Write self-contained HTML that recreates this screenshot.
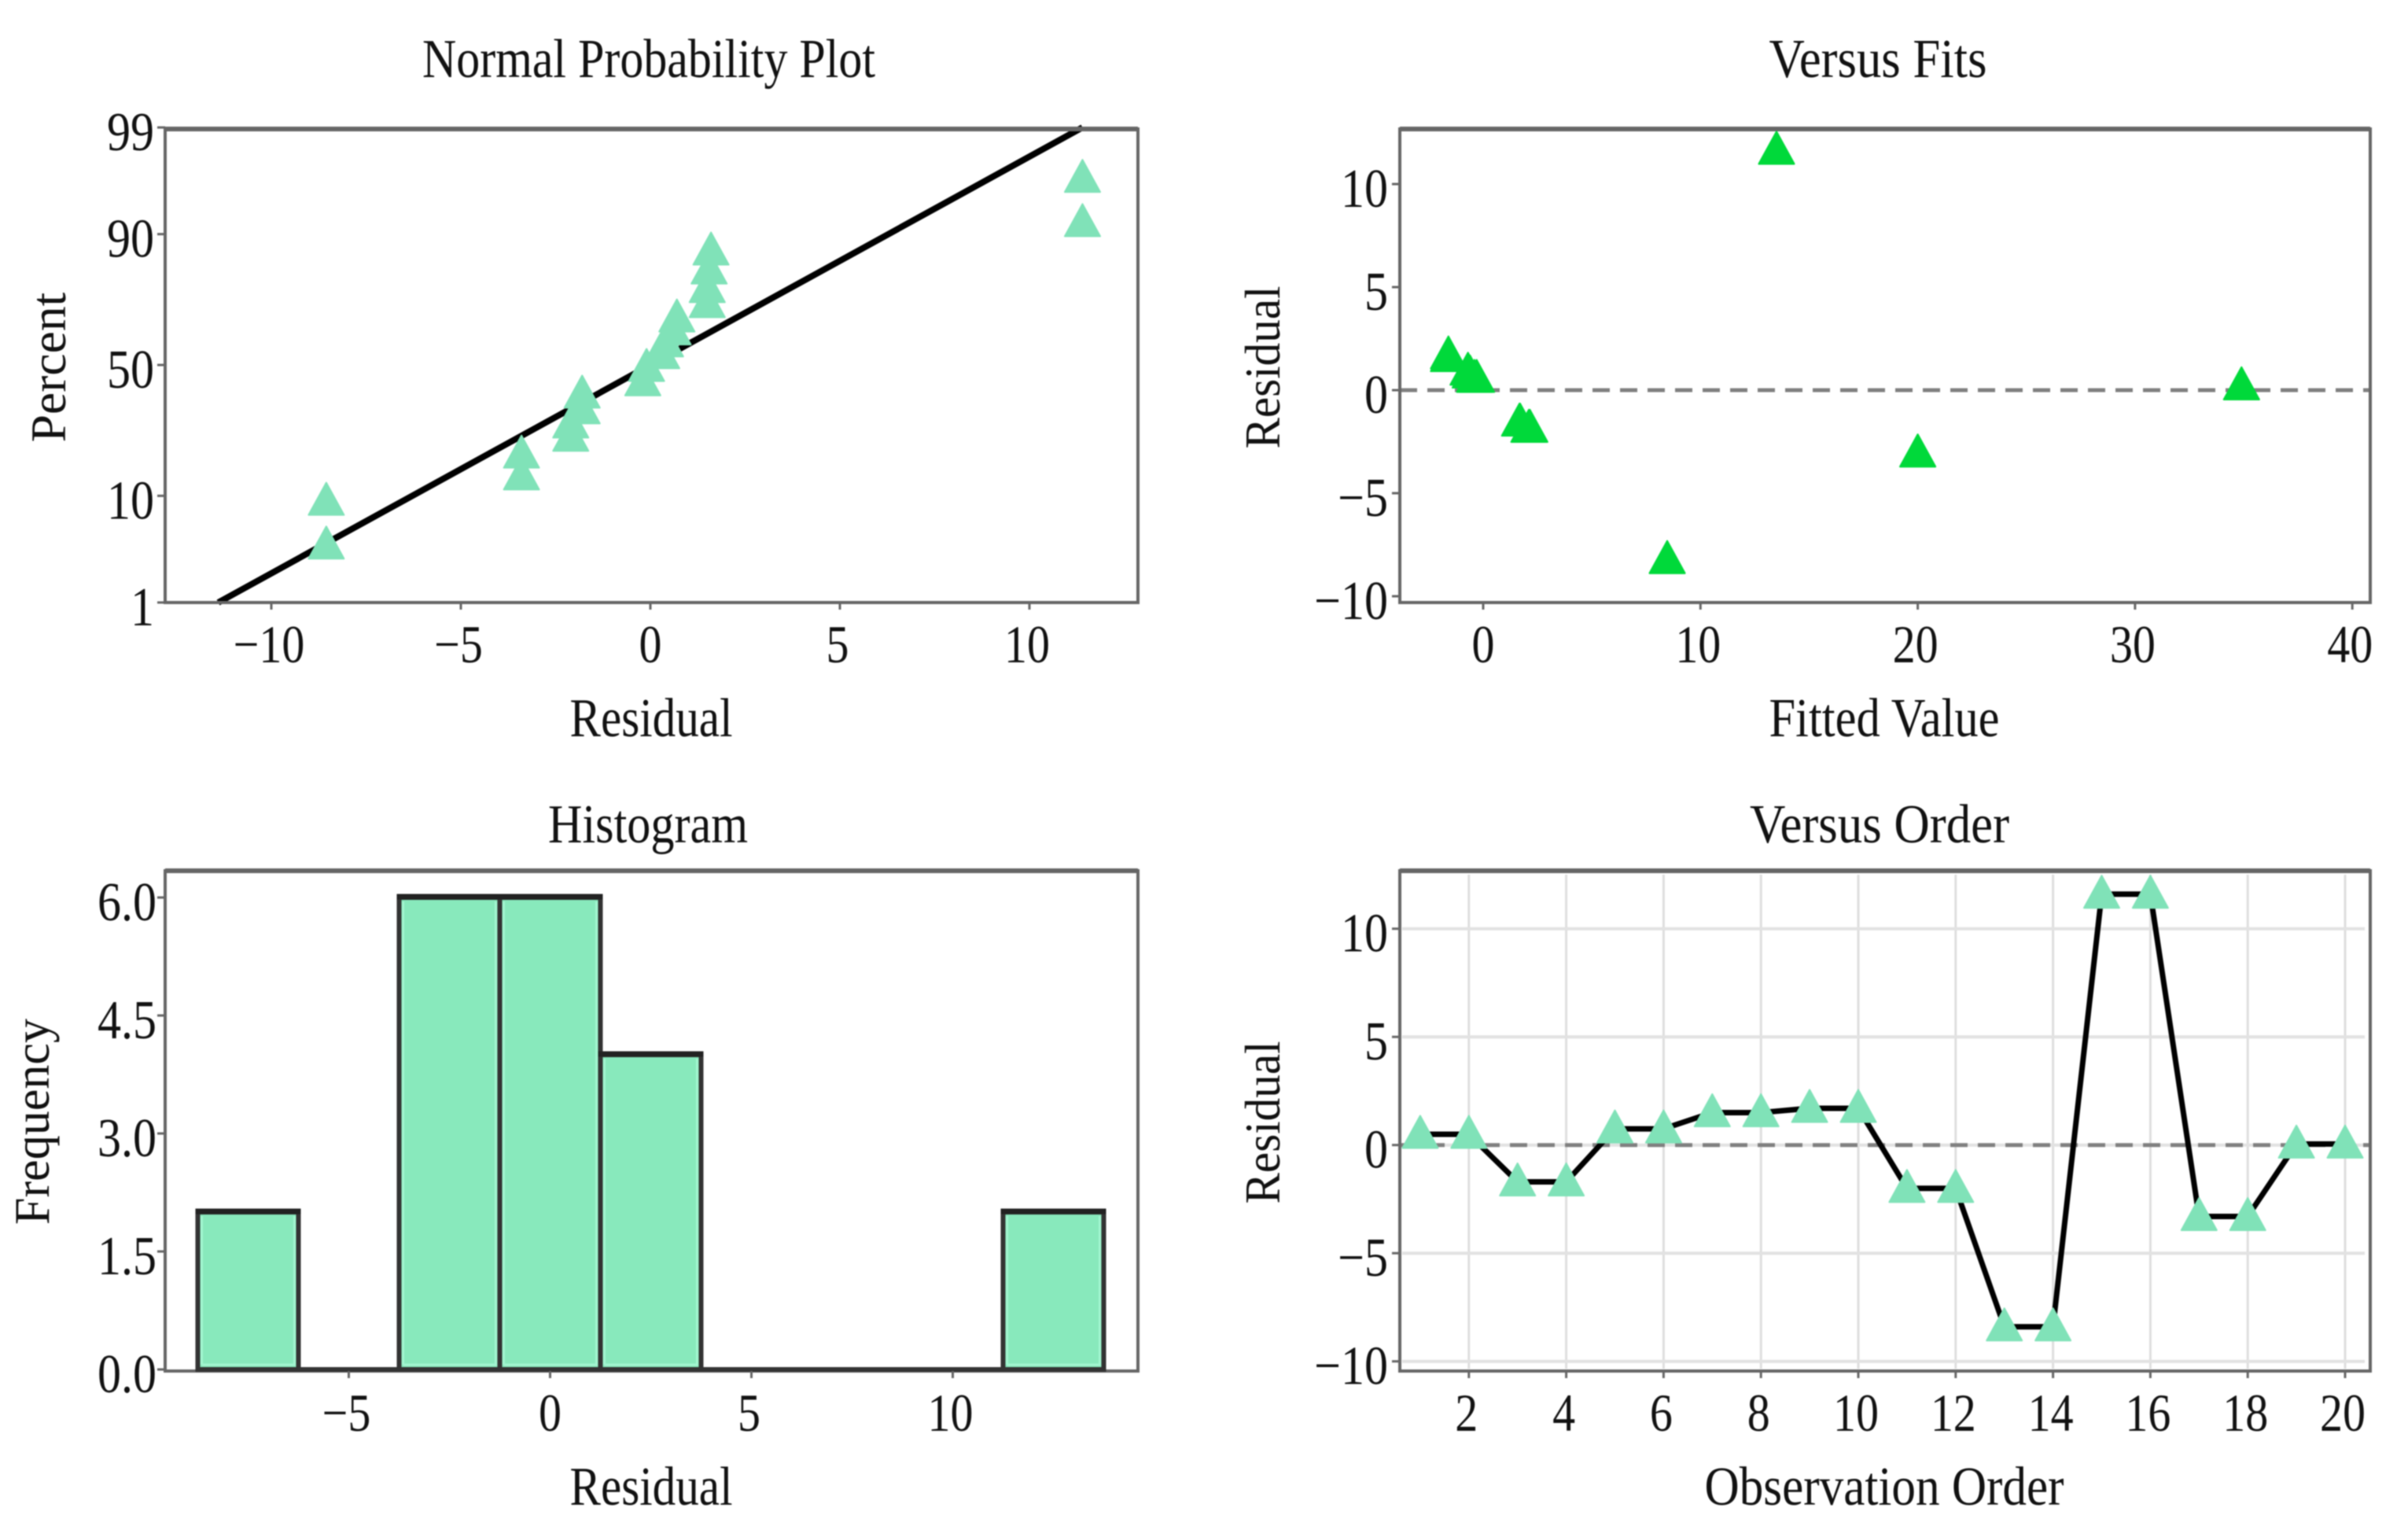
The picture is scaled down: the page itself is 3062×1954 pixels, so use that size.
<!DOCTYPE html>
<html lang="en">
<head>
<meta charset="utf-8">
<title>Residual Plots</title>
<style>
html,body{margin:0;padding:0;background:#fff;width:3062px;height:1954px;overflow:hidden}
svg{display:block;filter:blur(0.9px)}
text{font-family:"Liberation Serif",serif;fill:#111}
</style>
</head>
<body>
<svg id="chart" xmlns="http://www.w3.org/2000/svg" width="3062" height="1954" viewBox="0 0 3062 1954">
  <rect x="0" y="0" width="3062" height="1954" fill="#ffffff"/>
</svg>
<script>
// ---------- Data ----------
const nppResiduals = [-8.55,-8.55,-3.4,-3.4,-2.1,-2.1,-1.8,-1.8,-0.2,-0.1,0.3,0.4,0.6,0.7,1.5,1.5,1.55,1.6,11.4,11.4];
const nppPercents  = [4.1,9.5,14.4,19.8,24.7,29,33.9,39.7,44.4,50,55,59.5,64,68.6,73.4,78,83,87.3,92.2,96.8];
const nppLineResiduals = [-11.4, 11.4];
const nppLinePercents  = [1, 99];
const nppXTicks = [-10,-5,0,5,10];
const nppYTicks = [1,10,50,90,99];

const fitsFitted    = [-1.6,-1.6,-0.7,-0.6,-0.4,-0.3,1.67,1.7,2.1,2.15,8.47,8.47,13.5,13.5,20,20,34.9,34.9];
const fitsResiduals = [1.83,1.7,1.04,0.9,0.69,0.69,-1.43,-1.43,-1.73,-1.73,-8.1,-8.1,11.76,11.76,-2.93,-2.93,0.33,0.33];
const fitsXTicks = [0,10,20,30,40];
const fitsYTicks = [-10,-5,0,5,10];

const histBinEdges = [-8.75,-6.25,-3.75,-1.25,1.25,3.75,6.25,8.75,11.25,13.75];
const histCounts   = [2,0,6,6,4,0,0,0,2];
const histXTicks = [-5,0,5,10];
const histYTicks = ["0.0","1.5","3.0","4.5","6.0"];

const orderResiduals = [0.5,0.5,-1.7,-1.7,0.75,0.75,1.5,1.5,1.7,1.7,-2.0,-2.0,-8.4,-8.4,11.6,11.6,-3.3,-3.3,0.05,0.05];
const orderXTicks = [2,4,6,8,10,12,14,16,18,20];
const orderYTicks = [-10,-5,0,5,10];

// ---------- Axis functions ----------
function probit(p){
  const a=[-39.69683028665376,220.9460984245205,-275.9285104469687,138.357751867269,-30.66479806614716,2.506628277459239];
  const b=[-54.47609879822406,161.5858368580409,-155.6989798598866,66.80131188771972,-13.28068155288572];
  const c=[-0.007784894002430293,-0.3223964580411365,-2.400758277161838,-2.549732539343734,4.374664141464968,2.938163982698783];
  const d=[0.007784695709041462,0.3224671290700398,2.445134137142996,3.754408661907416];
  if(p<0.02425){const q=Math.sqrt(-2*Math.log(p));return (((((c[0]*q+c[1])*q+c[2])*q+c[3])*q+c[4])*q+c[5])/((((d[0]*q+d[1])*q+d[2])*q+d[3])*q+1);}
  if(p>0.97575){return -probit(1-p);}
  const q=p-0.5,r=q*q;
  return (((((a[0]*r+a[1])*r+a[2])*r+a[3])*r+a[4])*r+a[5])*q/(((((b[0]*r+b[1])*r+b[2])*r+b[3])*r+b[4])*r+1);
}
const xNpp   = v => 827 + v*48.2;
const yNpp   = p => 464 - probit(p/100)*129.8;
const xFits  = v => 1886 + v*27.63;
const yFits  = v => 496 - v*26.2;
const xHist  = v => 699.5 + v*51.2;
const yHist  = v => 1741 - v*100;
const xOrder = v => 1744 + v*61.9;
const yOrder = v => 1455.7 - v*27.5;

// ---------- Drawing primitives ----------
const NS = "http://www.w3.org/2000/svg";
const root = document.getElementById("chart");
const STRETCH = 1.17;
const MINT = "#80e2b8";
const GREEN = "#00d93a";

function make(tag, parent, attrs){
  const e = document.createElementNS(NS, tag);
  for (const k in attrs) e.setAttribute(k, attrs[k]);
  parent.appendChild(e);
  return e;
}
function label(parent, txt, x, y, size, anchor, rotated, len){
  const t = make("text", parent, {
    "font-size": size,
    "text-anchor": anchor,
    transform: "translate(" + x + " " + y + ") " + (rotated ? "scale(1.2 " + STRETCH + ") rotate(-90)" : "scale(1 " + STRETCH + ")")
  });
  if (len) {
    t.setAttribute("textLength", len);
    t.setAttribute("lengthAdjust", "spacingAndGlyphs");
  }
  t.textContent = String(txt).replace("-", "\u2212");
  return t;
}
function triangle(parent, cx, cy, fill){
  const w = 45, h = 41;
  return make("path", parent, {
    d: "M" + cx + " " + (cy - h/2) + "L" + (cx + w/2) + " " + (cy + h/2) + "L" + (cx - w/2) + " " + (cy + h/2) + "Z",
    fill: fill, stroke: fill, "stroke-width": 2, "stroke-linejoin": "round"
  });
}
function panel(name){
  const g = make("g", root, {});
  
  
  return g;
}
function frame(g, x0, y0, x1, y1){
  const r = make("rect", g, {x:x0, y:y0, width:x1-x0, height:y1-y0, fill:"none", stroke:"#666", "stroke-width":4});
  
  
  const t = make("line", g, {x1:x0, x2:x1, y1:y0, y2:y0, stroke:"#666", "stroke-width":6});
  
  
}
function xTicks(g, ticks, xf, yBottom, labelY){
  ticks.forEach(function(v){
    const m = make("line", g, {x1:xf(v), x2:xf(v), y1:yBottom, y2:yBottom+9, stroke:"#666", "stroke-width":3});
    
    
    const t = label(g, v, xf(v) - (v === 0 ? 0 : 3), labelY, 58, "middle", false);
    
    
  });
}
function yTicks(g, ticks, yf, xLeft, labelX){
  ticks.forEach(function(v){
    const y = yf(parseFloat(v));
    const m = make("line", g, {x1:xLeft-10, x2:xLeft, y1:y, y2:y, stroke:"#666", "stroke-width":3});
    
    
    const t = label(g, v, labelX, y+29, 60, "end", false);
    
    
  });
}
function titles(g, title, tx, ty, tLen, xt, xx, xy, xLen, yt, yx, yy, yLen){
  const a = label(g, title, tx, ty, 60, "middle", false, tLen);
  
  
  const b = label(g, xt, xx, xy, 60, "middle", false, xLen);
  
  
  const c = label(g, yt, yx, yy, 53, "middle", true, yLen);
  
  
}

// ---------- Normal Probability Plot ----------
(function(){
  const g = panel("normal-probability-plot");
  titles(g, "Normal Probability Plot", 825, 98, 576, "Residual", 828, 936, 207, "Percent", 83, 467, 163);
  const line = make("line", g, {
    x1:xNpp(nppLineResiduals[0]), y1:yNpp(nppLinePercents[0]),
    x2:xNpp(nppLineResiduals[1]), y2:yNpp(nppLinePercents[1]),
    stroke:"#000", "stroke-width":8
  });
  
  
  frame(g, 210, 164, 1447, 766);
  xTicks(g, nppXTicks, xNpp, 766, 842);
  yTicks(g, nppYTicks, yNpp, 210, 196);
  nppResiduals.forEach(function(r, i){
    const p = triangle(g, xNpp(r), yNpp(nppPercents[i]), MINT);
    
    
  });
})();

// ---------- Versus Fits ----------
(function(){
  const g = panel("versus-fits-plot");
  titles(g, "Versus Fits", 2388, 98, 277, "Fitted Value", 2396, 936, 293, "Residual", 1627, 467, 177);
  const z = make("line", g, {x1:1780, x2:3014, y1:yFits(0), y2:yFits(0), stroke:"#808080", "stroke-width":5, "stroke-dasharray":"22 13"});
  
  
  frame(g, 1780, 164, 3014, 766);
  xTicks(g, fitsXTicks, xFits, 766, 842);
  yTicks(g, fitsYTicks, yFits, 1780, 1765);
  fitsFitted.forEach(function(f, i){
    const p = triangle(g, xFits(f), yFits(fitsResiduals[i]), GREEN);
    
    
  });
})();

// ---------- Histogram ----------
(function(){
  const g = panel("histogram-plot");
  titles(g, "Histogram", 824, 1071, 254, "Residual", 828, 1913, 207, "Frequency", 62, 1426, 224);
  frame(g, 210, 1107, 1447, 1743);
  histCounts.forEach(function(c, i){
    const x0 = xHist(histBinEdges[i]), x1 = xHist(histBinEdges[i+1]);
    const b = make("path", g, {
      d:"M"+x0+" "+yHist(0)+"L"+x0+" "+yHist(c)+"L"+x1+" "+yHist(c)+"L"+x1+" "+yHist(0)+"Z",
      fill:"#88e9bc", stroke:"#333", "stroke-width":6, "stroke-linejoin":"miter"
    });
    
    
    if (c > 0) {
      const top = make("line", g, {x1:x0-3, x2:x1+3, y1:yHist(c)-1, y2:yHist(c)-1, stroke:"#222", "stroke-width":7});
      
      
      const inner = make("path", g, {
        d:"M"+(x0+5)+" "+(yHist(0)-6)+"L"+(x0+5)+" "+(yHist(c)+5)+"M"+(x1-5)+" "+(yHist(c)+5)+"L"+(x1-5)+" "+(yHist(0)-6)+"L"+(x0+5)+" "+(yHist(0)-6),
        fill:"none", stroke:"#a2f5d0", "stroke-width":3
      });
      
      
    }
  });
  xTicks(g, histXTicks, xHist, 1743, 1819);
  yTicks(g, histYTicks, yHist, 210, 199);
})();

// ---------- Versus Order ----------
(function(){
  const g = panel("versus-order-plot");
  titles(g, "Versus Order", 2390, 1071, 330, "Observation Order", 2396, 1913, 457, "Residual", 1627, 1427, 177);
  orderXTicks.forEach(function(v){
    const l = make("line", g, {x1:xOrder(v), x2:xOrder(v), y1:1112, y2:1740, stroke:"#dedede", "stroke-width":3});
    
    
  });
  orderYTicks.forEach(function(v){
    const l = make("line", g, {x1:1783, x2:3007, y1:yOrder(v), y2:yOrder(v), stroke:"#e2e2e2", "stroke-width":4});
    
    
  });
  const z = make("line", g, {x1:1780, x2:3014, y1:yOrder(0), y2:yOrder(0), stroke:"#808080", "stroke-width":5, "stroke-dasharray":"22 13"});
  
  
  frame(g, 1780, 1107, 3014, 1743);
  xTicks(g, orderXTicks, xOrder, 1743, 1819);
  yTicks(g, orderYTicks, yOrder, 1780, 1765);
  const path = orderResiduals.map(function(r, i){ return (i ? "L" : "M") + xOrder(i+1) + " " + yOrder(r); }).join("");
  const conn = make("path", g, {d:path, fill:"none", stroke:"#000", "stroke-width":7, "stroke-linejoin":"round"});
  
  
  orderResiduals.forEach(function(r, i){
    const p = triangle(g, xOrder(i+1), yOrder(r) - 3, MINT);
    
    
  });
})();
</script>
</body>
</html>
